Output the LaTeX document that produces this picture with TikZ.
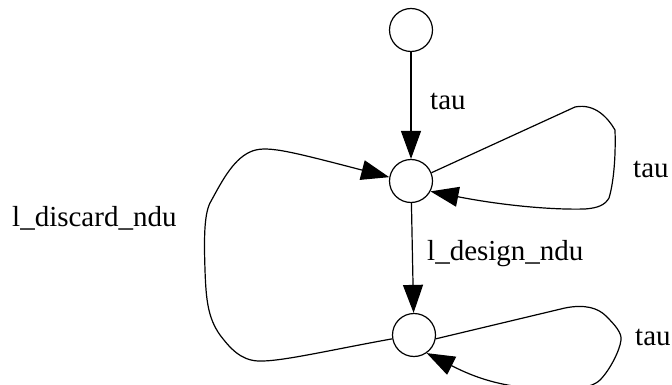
\documentclass[tikz,border=0pt]{standalone}
\usepackage{fontspec}
\setmainfont{Liberation Serif}
\usetikzlibrary{arrows.meta}

\begin{document}
\begin{tikzpicture}[x=1pt,y=-1pt,
  state/.style={circle,draw,minimum size=43pt,inner sep=0pt,line width=1.2pt},
  trans/.style={-{Triangle[length=28pt,width=20pt]},line width=1.2pt},
  lbl/.style={anchor=west,inner sep=0pt,font=\fontsize{29}{34}\selectfont}]
                    \useasboundingbox (0,0) rectangle (672,385);
                    \node[state] at (411,30) (0) {};
                    \node[state] at (411,181) (1) {};
                    \node[state] at (414,335) (2) {};

                    \draw[trans] (0) -- (1);
                    \draw[trans] (1) -- (2);
                    \draw[trans] (1.22) -- (575,107) .. controls (595,103) and (608,118) .. (615,130)
                        .. controls (616,160) and (613,185) .. (609,198) .. controls (605,205) and (598,208) .. (585,209)
                        .. controls (550,210) and (500,205) .. (1.-28);
                    \draw[trans] (2.190) .. controls (330,350) and (280,362) .. (258,361)
                        .. controls (240,360) and (230,348) .. (220,335) .. controls (208,318) and (206,300) .. (205,270)
                        .. controls (204,240) and (204,215) .. (210,203) .. controls (220,185) and (232,160) .. (250,152)
                        .. controls (265,145) and (285,150) .. (1.170);
                    \draw[trans] (2.-10) -- (565,308) .. controls (585,304) and (598,308) .. (606,316)
                        .. controls (615,325) and (622,333) .. (621,340) .. controls (620,350) and (610,370) .. (600,380)
                        .. controls (590,390) and (560,392) .. (520,387) .. controls (490,383) and (470,375) .. (2.-55);

                    \node[lbl] at (430,101) (t0) {tau};
                    \node[lbl] at (427,254) (t1) {l\_design\_ndu};
                    \node[lbl] at (633,169) (t2) {tau};
                    \node[lbl] at (12,218) (t3) {l\_discard\_ndu};
                    \node[lbl] at (635,337) (t4) {tau};
                \end{tikzpicture}
\end{document}
